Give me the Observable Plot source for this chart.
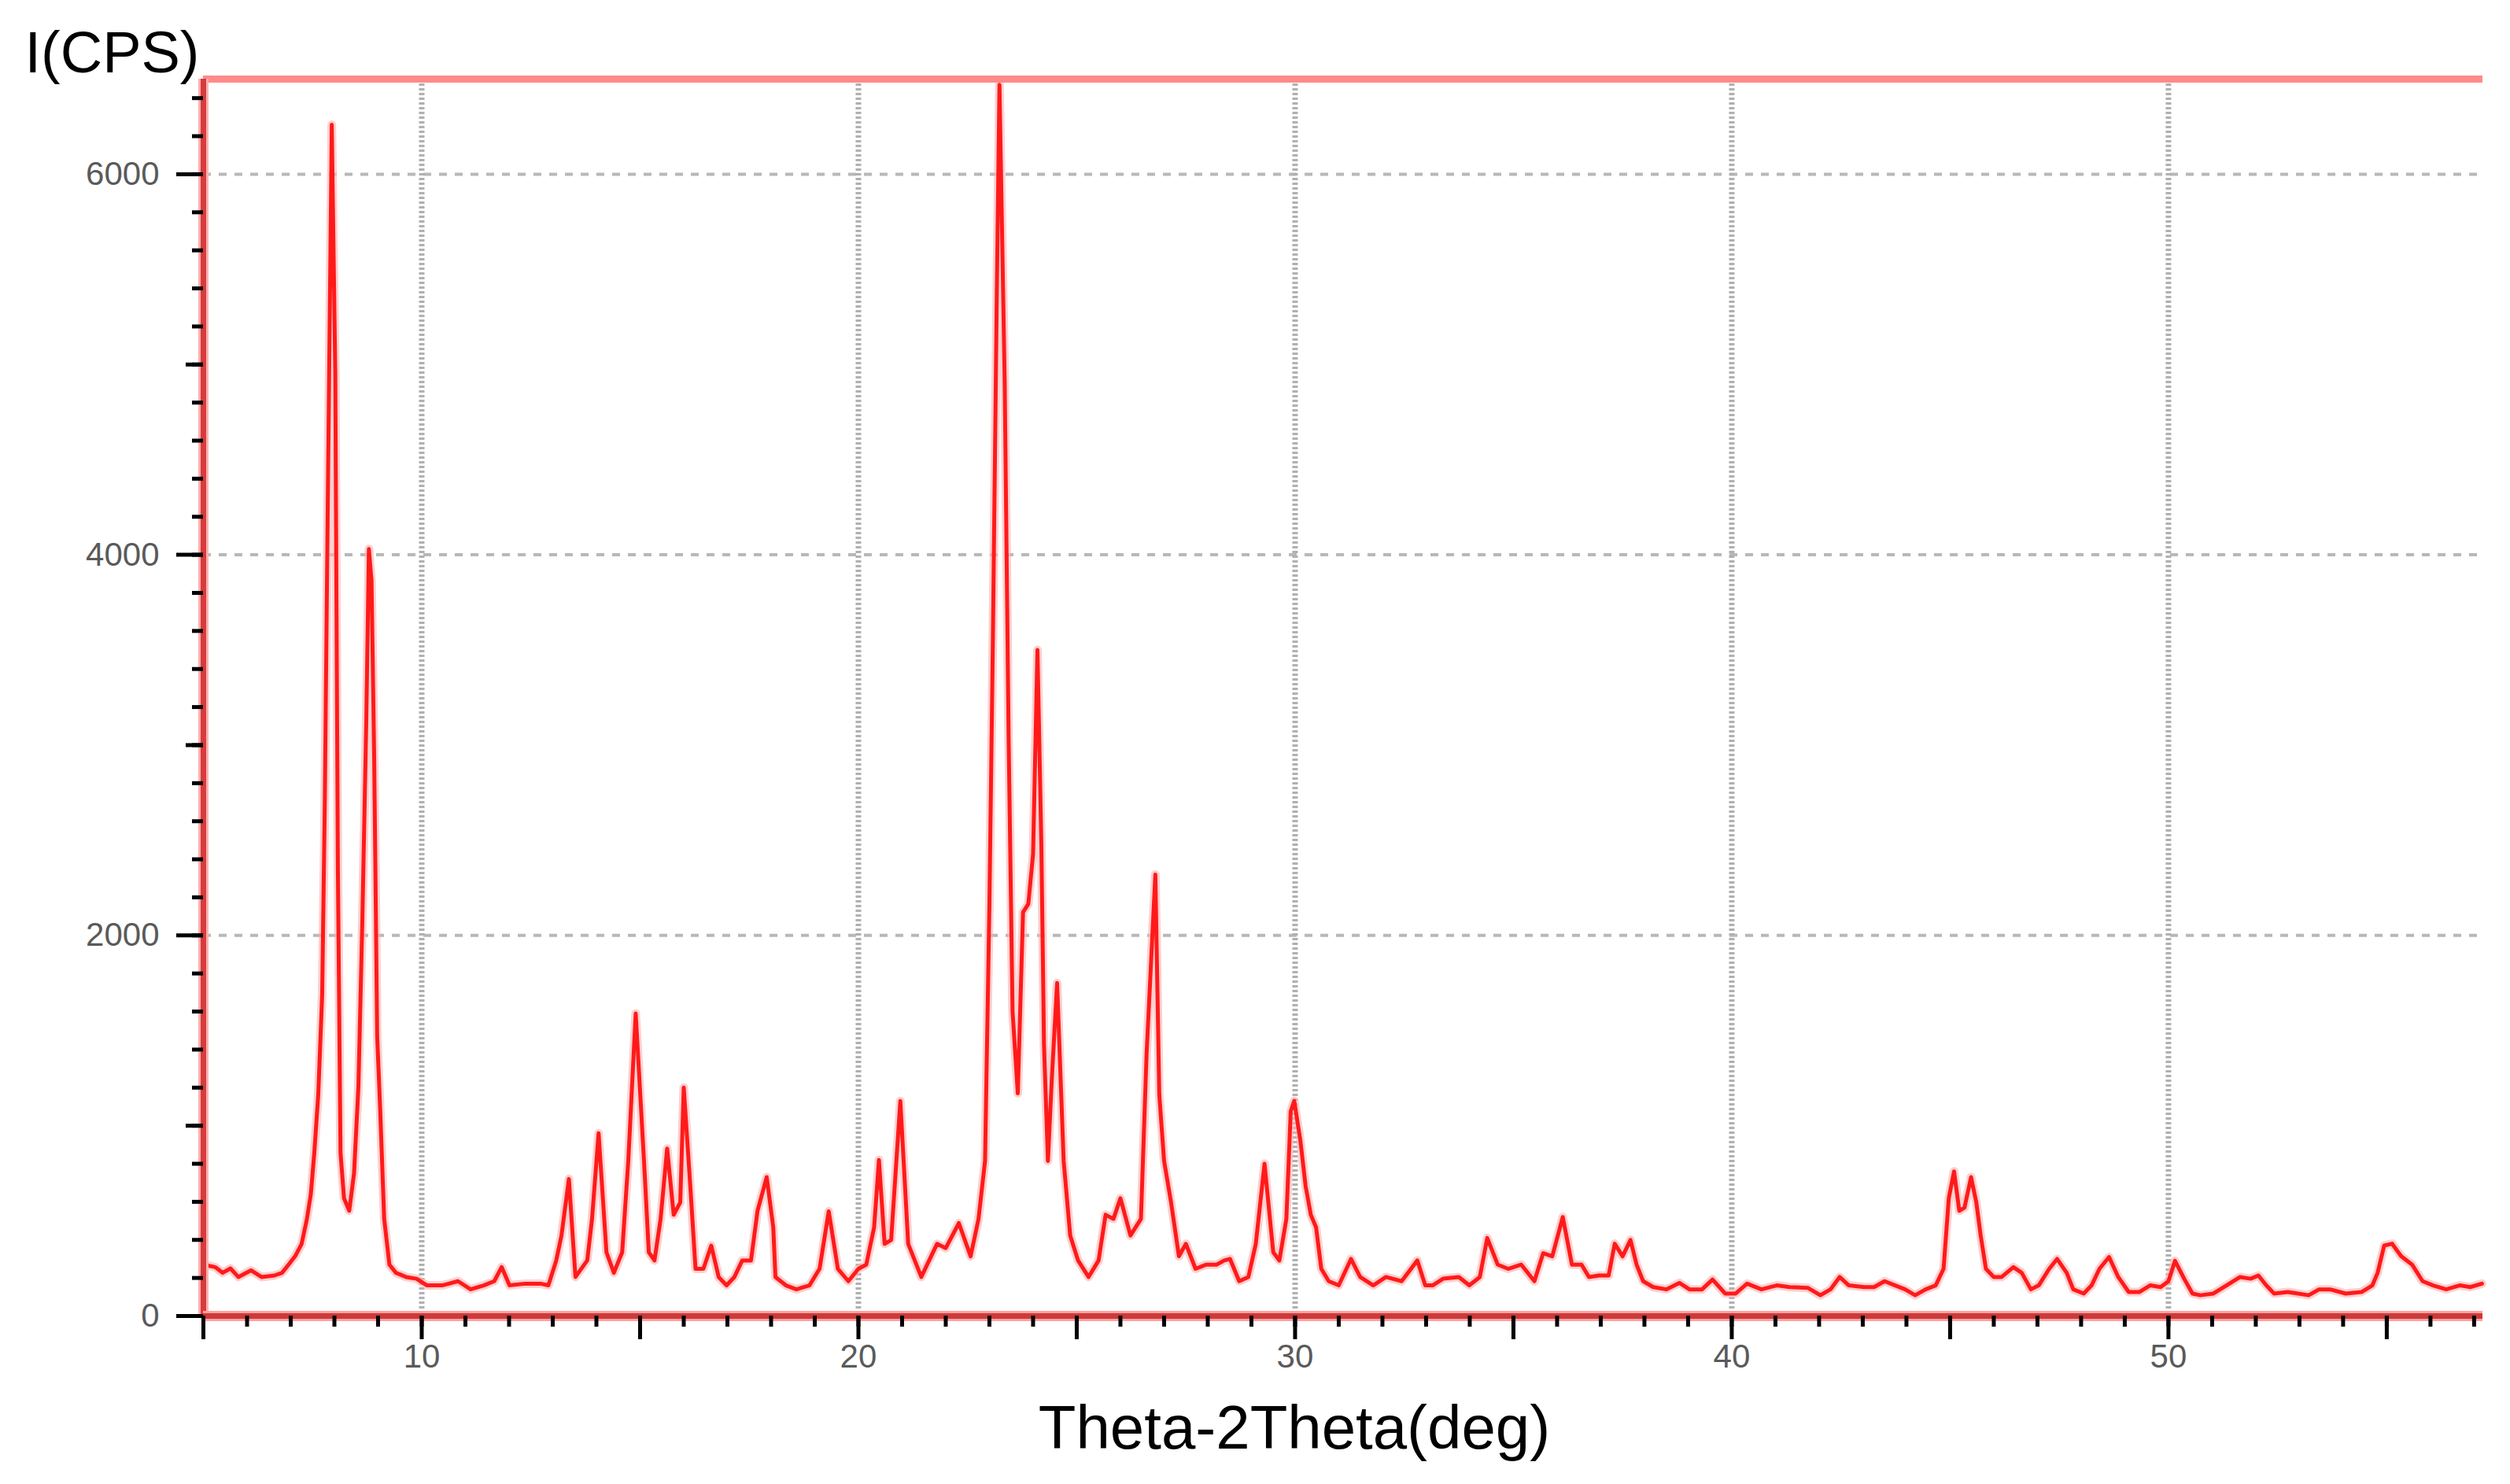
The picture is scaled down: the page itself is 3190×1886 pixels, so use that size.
<!DOCTYPE html>
<html>
<head>
<meta charset="utf-8">
<script src="https://cdn.jsdelivr.net/npm/d3@7"></script>
<script src="https://cdn.jsdelivr.net/npm/@observablehq/plot@0.6"></script>
<style>
  html, body { margin: 0; padding: 0; background: #ffffff; }
  #chart svg { display: block; }
</style>
</head>
<body>
<div id="chart"></div>
<script>
const twoTheta = [
  5.0, 5.27, 5.44, 5.62, 5.8, 6.09, 6.33, 6.63, 6.8, 6.95, 7.1, 7.25, 7.37, 7.46, 7.54, 7.63, 7.72, 7.78, 7.84, 7.9,
  7.94, 8.02, 8.08, 8.14, 8.22, 8.34, 8.45, 8.55, 8.64, 8.73, 8.79, 8.85, 8.91, 8.98, 9.05, 9.14, 9.26, 9.41, 9.64, 9.88,
  10.12, 10.47, 10.83, 11.12, 11.42, 11.66, 11.83, 12.01, 12.37, 12.72, 12.9, 13.08, 13.2, 13.37, 13.52, 13.79, 13.9, 14.05, 14.23, 14.4,
  14.59, 14.73, 14.9, 15.09, 15.2, 15.33, 15.47, 15.62, 15.77, 15.92, 16.0, 16.15, 16.27, 16.45, 16.63, 16.8, 16.98, 17.16, 17.34, 17.54,
  17.69, 17.9, 18.05, 18.1, 18.34, 18.58, 18.88, 19.11, 19.32, 19.53, 19.77, 20.0, 20.18, 20.36, 20.47, 20.6, 20.75, 20.96, 21.14, 21.44,
  21.8, 22.0, 22.3, 22.57, 22.75, 22.9, 23.0, 23.08, 23.17, 23.23, 23.35, 23.44, 23.53, 23.65, 23.77, 23.89, 24.0, 24.1, 24.19, 24.25,
  24.34, 24.43, 24.55, 24.7, 24.85, 25.03, 25.27, 25.5, 25.66, 25.84, 26.0, 26.23, 26.47, 26.6, 26.8, 26.89, 27.0, 27.16, 27.34, 27.5,
  27.72, 27.96, 28.2, 28.38, 28.51, 28.72, 28.93, 29.1, 29.3, 29.5, 29.64, 29.8, 29.9, 29.98, 30.12, 30.24, 30.36, 30.48, 30.6, 30.77,
  31.0, 31.28, 31.49, 31.79, 32.08, 32.44, 32.8, 32.98, 33.15, 33.39, 33.75, 33.99, 34.23, 34.4, 34.64, 34.88, 35.18, 35.48, 35.68, 35.89,
  36.13, 36.34, 36.56, 36.73, 36.96, 37.18, 37.32, 37.5, 37.68, 37.82, 37.97, 38.2, 38.5, 38.8, 39.03, 39.32, 39.56, 39.85, 40.09, 40.35,
  40.68, 41.03, 41.32, 41.74, 42.03, 42.26, 42.47, 42.68, 43.03, 43.26, 43.5, 43.74, 43.97, 44.2, 44.44, 44.67, 44.85, 44.97, 45.09, 45.21,
  45.33, 45.48, 45.6, 45.7, 45.82, 46.0, 46.18, 46.45, 46.64, 46.85, 47.03, 47.27, 47.45, 47.67, 47.82, 48.06, 48.24, 48.42, 48.64, 48.85,
  49.09, 49.33, 49.58, 49.82, 50.0, 50.15, 50.36, 50.55, 50.73, 51.03, 51.33, 51.64, 51.88, 52.06, 52.24, 52.42, 52.73, 52.97, 53.21, 53.45,
  53.7, 54.06, 54.42, 54.67, 54.79, 54.94, 55.12, 55.33, 55.58, 55.82, 56.06, 56.36, 56.67, 56.91, 57.18
];
const intensity = [
  270, 257, 227, 250, 205, 240, 205, 213, 227, 270, 314, 379, 510, 640, 858, 1163, 1686, 2688, 4082, 5390,
  6260, 4954, 2340, 858, 619, 553, 750, 1207, 2078, 3124, 4030, 3865, 2950, 1468, 1076, 510, 270, 227, 205, 196,
  161, 161, 183, 140, 161, 183, 257, 161, 170, 170, 161, 292, 423, 720, 205, 292, 510, 960, 335, 227,
  335, 815, 1590, 815, 335, 292, 510, 880, 532, 597, 1200, 684, 248, 248, 370, 205, 161, 205, 292, 292,
  553, 730, 466, 205, 161, 140, 161, 248, 550, 248, 183, 248, 270, 466, 820, 379, 400, 1130, 379, 205,
  379, 357, 488, 314, 510, 815, 2165, 3560, 5390, 6470, 4910, 3037, 1600, 1170, 2122, 2165, 2427, 3500, 2470, 1425,
  815, 1250, 1750, 815, 423, 292, 205, 292, 532, 510, 619, 423, 510, 1381, 2320, 1163, 815, 597, 314, 379,
  248, 270, 270, 292, 300, 183, 205, 379, 800, 335, 292, 510, 1076, 1130, 924, 684, 532, 466, 248, 183,
  161, 300, 205, 161, 205, 183, 292, 161, 161, 196, 205, 161, 205, 410, 270, 248, 270, 183, 330, 314,
  520, 270, 270, 205, 213, 213, 380, 314, 400, 270, 183, 152, 140, 174, 140, 140, 192, 118, 118, 170,
  140, 161, 152, 148, 109, 140, 205, 161, 152, 152, 183, 161, 140, 109, 140, 161, 248, 619, 760, 553,
  570, 730, 597, 423, 248, 205, 205, 257, 227, 140, 161, 248, 300, 227, 140, 118, 161, 248, 310, 205,
  126, 126, 161, 152, 183, 290, 196, 118, 109, 118, 161, 205, 196, 213, 161, 118, 126, 118, 109, 140,
  140, 118, 126, 161, 227, 370, 380, 314, 270, 183, 161, 140, 161, 152, 170
];

// ---- Axis ticks and grid ----
const xMinorTicks = d3.range(5, 58, 1);
const xMajorTicks = [5, 10, 15, 20, 25, 30, 35, 40, 45, 50, 55];
const xLabelTicks = [10, 20, 30, 40, 50];
const yMinorTicks = d3.range(0, 6500, 200);
const yMediumTicks = [1000, 3000, 5000];
const yMajorTicks = [0, 2000, 4000, 6000];
const xGrid = [10, 20, 30, 40, 50];
const yGrid = [2000, 4000, 6000];
const xDomain = [5, 57.2];
const yDomain = [0, 6500];

const yTitle = "I(CPS)";
const xTitle = "Theta-2Theta(deg)";

const data = twoTheta.map((t, i) => ({t, v: intensity[i]}));
const font = "'Liberation Sans', Arial, sans-serif";

const chart = Plot.plot({
  width: 3190,
  height: 1886,
  marginLeft: 258,
  marginRight: 35,
  marginTop: 100,
  marginBottom: 214,
  style: {fontFamily: font, background: "#ffffff", overflow: "visible"},
  x: {domain: xDomain},
  y: {domain: yDomain},
  marks: [
    // grid
    Plot.ruleY(yGrid, {stroke: "#b8b8b8", strokeWidth: 4, strokeDasharray: "10,10"}),
    Plot.ruleX(xGrid, {stroke: "#b0b0b0", strokeWidth: 7, strokeDasharray: "3,3"}),
    // trace
    Plot.line(data, {x: "t", y: "v", stroke: "#ffb0b0", strokeWidth: 11, strokeOpacity: 0.6}),
    Plot.line(data, {x: "t", y: "v", stroke: "#ff1a1a", strokeWidth: 5}),
    // borders
    Plot.ruleY([yDomain[1]], {stroke: "#ff8a8a", strokeWidth: 9}),
    Plot.ruleX([xDomain[0]], {stroke: "#ffb0b0", strokeWidth: 13}),
    Plot.ruleX([xDomain[0]], {stroke: "#d63c3c", strokeWidth: 7}),
    Plot.ruleY([yDomain[0]], {stroke: "#ffa0a0", strokeWidth: 13}),
    Plot.ruleY([yDomain[0]], {stroke: "#cc3a3a", strokeWidth: 7}),
    // y ticks
    Plot.axisY({ticks: yMinorTicks, tickSize: 14, tickFormat: () => "", label: null, stroke: "#000", strokeWidth: 5}),
    Plot.axisY({ticks: yMediumTicks, tickSize: 22, tickFormat: () => "", label: null, stroke: "#000", strokeWidth: 5}),
    Plot.axisY({ticks: yMajorTicks, tickSize: 34, tickPadding: 22, label: null, stroke: "#000", strokeWidth: 5,
      tickFormat: d => String(d), fontSize: 42, fill: "#5a5a5a"}),
    // x ticks
    Plot.axisX({ticks: xMinorTicks, tickSize: 14, tickFormat: () => "", label: null, stroke: "#000", strokeWidth: 5}),
    Plot.axisX({ticks: xMajorTicks, tickSize: 30, tickFormat: () => "", label: null, stroke: "#000", strokeWidth: 5}),
    Plot.axisX({ticks: xLabelTicks, tickSize: 0, tickPadding: 36, label: null,
      tickFormat: d => String(d), fontSize: 42, fill: "#5a5a5a"}),
    // titles
    Plot.text([yTitle], {text: d => d, frameAnchor: "top-left", dx: -116, dy: -32,
      textAnchor: "middle", lineAnchor: "middle", fontSize: 74, fill: "#000"}),
    Plot.text([xTitle], {text: d => d, frameAnchor: "bottom", dx: -62, dy: 144,
      textAnchor: "middle", lineAnchor: "middle", fontSize: 78, fill: "#000"})
  ]
});
document.getElementById("chart").appendChild(chart);
</script>
</body>
</html>
